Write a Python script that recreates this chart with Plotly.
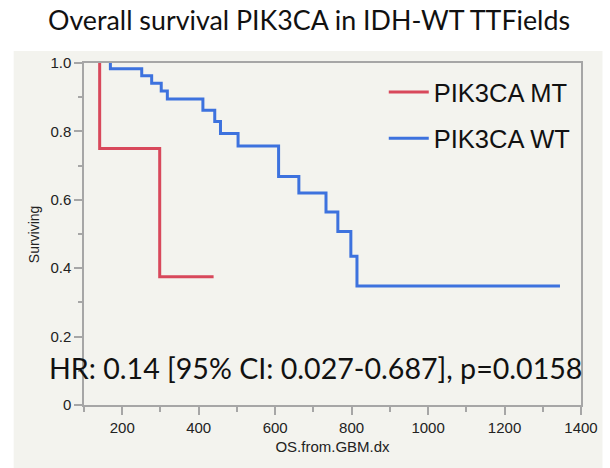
import plotly.graph_objects as go

# Kaplan-Meier step points (days from GBM diagnosis, surviving fraction)
mt_days = [141, 141, 298, 439]
mt_surv = [1.0, 0.75, 0.375, 0.375]

wt_days = [169, 169, 251, 277, 302, 318, 411, 442, 457, 503, 609, 662,
           733, 764, 798, 814, 1345]
wt_surv = [1.0, 0.983, 0.963, 0.941, 0.918, 0.895, 0.862, 0.829, 0.794,
           0.757, 0.668, 0.620, 0.564, 0.507, 0.435, 0.348, 0.348]

x_ticks = [200, 400, 600, 800, 1000, 1200, 1400]
y_ticks = [0, 0.2, 0.4, 0.6, 0.8, 1.0]
y_labels = ["0", "0.2", "0.4", "0.6", "0.8", "1.0"]

W, H = 610, 468
L, R, T, B = 84, 17, 63, 63
pw, ph = W - L - R, H - T - B

def px_x(p):
    return (p - L) / pw

def px_y(p):
    return (H - B - p) / ph

panel = "#f3f3ee"
axis_col = "#a6a6a6"
sans = "Liberation Sans, Arial, sans-serif"
tick_font = dict(family=sans, size=15, color="#222222")

fig = go.Figure()
fig.add_trace(go.Scatter(x=mt_days, y=mt_surv, mode="lines", line_shape="hv",
                         name="PIK3CA MT", legendgroup="mt",
                         line=dict(color="#d8485b", width=3)))
fig.add_trace(go.Scatter(x=wt_days, y=wt_surv, mode="lines", line_shape="hv",
                         name="PIK3CA WT", legendgroup="wt",
                         line=dict(color="#3d72de", width=3)))

fig.update_layout(
    width=W, height=H,
    margin=dict(l=L, r=R, t=T, b=B),
    paper_bgcolor="white", plot_bgcolor="white",
    showlegend=True,
    legend=dict(x=px_x(391), y=px_y(69), xanchor="left", yanchor="top",
                bgcolor="rgba(0,0,0,0)", borderwidth=0, tracegroupgap=10,
                traceorder="grouped",
                font=dict(family=sans, size=25.5, color="#111111"),
                itemwidth=40),
    xaxis=dict(range=[100, 1400], tickvals=x_ticks, ticks="outside", ticklen=8,
               tickcolor=axis_col, tickwidth=1.5, showline=True, linecolor=axis_col,
               linewidth=1.5, mirror=True, showgrid=False, zeroline=False,
               tickfont=tick_font,
               minor=dict(dtick=100, tick0=100, ticks="outside", ticklen=5,
                          tickcolor=axis_col, tickwidth=1.5, showgrid=False),
               title=dict(text="OS.from.GBM.dx", standoff=7,
                          font=dict(family=sans, size=15, color="#222222"))),
    yaxis=dict(range=[0, 1], tickvals=y_ticks, ticktext=y_labels, ticks="outside",
               ticklen=8, tickcolor=axis_col, tickwidth=1.5, showline=True,
               linecolor=axis_col, linewidth=1.5, mirror=True, showgrid=False,
               zeroline=False, tickfont=tick_font,
               minor=dict(dtick=0.1, tick0=0, ticks="outside", ticklen=4,
                          tickcolor=axis_col, tickwidth=1.5, showgrid=False)),
    shapes=[
        # grey panel behind the whole chart body
        dict(type="rect", xref="paper", yref="paper", layer="below",
             x0=px_x(12), x1=px_x(W + 5), y0=px_y(H + 5), y1=px_y(51),
             fillcolor=panel, line=dict(width=0)),
        # legend box
        dict(type="rect", xref="paper", yref="paper", layer="above",
             x0=px_x(378), x1=px_x(587), y0=px_y(163), y1=px_y(73),
             fillcolor=panel, line=dict(width=0)),
    ],
    annotations=[
        dict(text="Overall survival PIK3CA in IDH-WT TTFields", xref="paper",
             yref="paper", x=px_x(45), y=px_y(20), xanchor="left",
             yanchor="middle", showarrow=False,
             font=dict(family="Lato, sans-serif", size=26.8, color="#111111")),
        dict(text="HR: 0.14 [95% CI: 0.027-0.687], p=0.0158", xref="paper",
             yref="paper", x=px_x(46), y=px_y(368), xanchor="left",
             yanchor="middle", showarrow=False,
             font=dict(family="Lato, sans-serif", size=28.6, color="#111111")),
        dict(text="Surviving", xref="paper", yref="paper", x=px_x(33),
             y=px_y(234), xanchor="center", yanchor="middle", textangle=-90,
             showarrow=False,
             font=dict(family=sans, size=14, color="#222222")),
    ],
)

fig.write_html("out.html")
